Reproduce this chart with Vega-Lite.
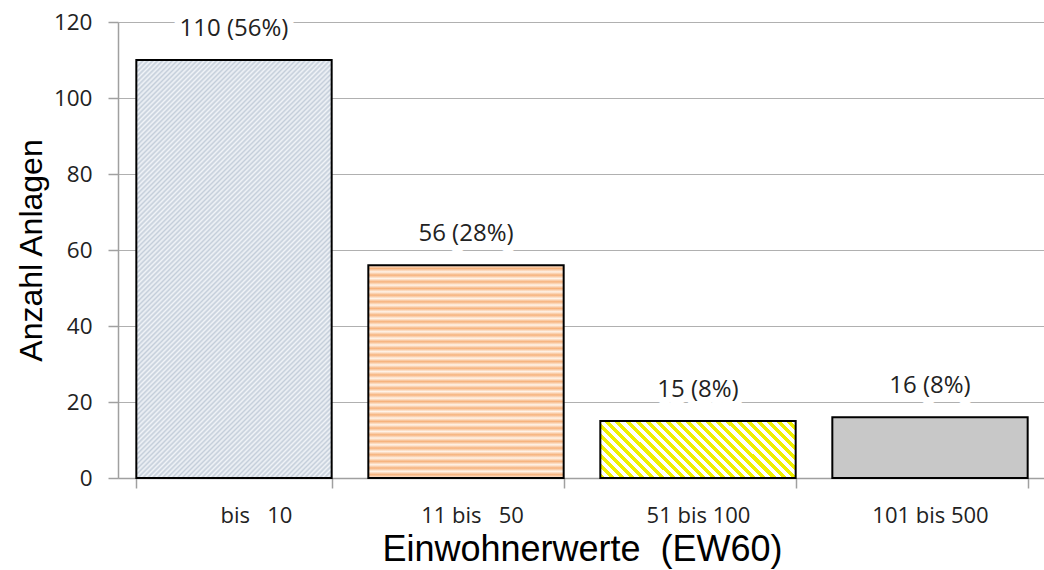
{
  "$schema": "https://vega.github.io/schema/vega-lite/v6.json",
  "width": 928,
  "height": 456,
  "autosize": "none",
  "padding": {"left": 118, "top": 22, "right": 0, "bottom": 92},
  "background": "white",
  "config": {"view": {"stroke": null}, "font": "Open Sans"},
  "data": {"values": [
    {"id": 1, "kat": "bis\u00a0\u00a0\u00a010", "anzahl": 110, "label": "110 (56%)"},
    {"id": 2, "kat": "11 bis\u00a0\u00a0\u00a050", "anzahl": 56, "label": "56 (28%)"},
    {"id": 3, "kat": "51 bis 100", "anzahl": 15, "label": "15 (8%)"},
    {"id": 4, "kat": "101 bis 500", "anzahl": 16, "label": "16 (8%)"}
  ]},
  "encoding": {
    "x": {
      "field": "kat", "type": "nominal", "sort": null,
      "scale": {"domain": ["bis\u00a0\u00a0\u00a010", "11 bis\u00a0\u00a0\u00a050", "51 bis 100", "101 bis 500"], "paddingInner": 0.158, "paddingOuter": 0.079},
      "axis": {
        "title": "Einwohnerwerte\u00a0 (EW60)", "titleFont": "Liberation Sans", "titleFontSize": 36, "titleFontWeight": "normal", "titleColor": "#000000", "titlePadding": 6,
        "labelFont": "Open Sans", "labelFontSize": 22, "labelColor": "#222222", "labelAngle": 0, "labelPadding": 17,
        "labelOffset": {"condition": [{"test": "indexof(datum.label, 'bis') === 0", "value": 22}, {"test": "indexof(datum.label, '11 ') === 0", "value": 6}], "value": 0},
        "domainColor": "#a0a0a0", "domainWidth": 1.5, "tickColor": "#a0a0a0", "tickWidth": 1.5, "tickSize": 10, "tickBand": "extent", "grid": false
      }
    },
    "y": {
      "field": "anzahl", "type": "quantitative",
      "scale": {"domain": [0, 120], "nice": false},
      "axis": {
        "title": "Anzahl Anlagen", "titleFont": "Liberation Sans", "titleFontSize": 32, "titleFontWeight": "normal", "titleColor": "#000000", "titlePadding": 5,
        "values": [0, 20, 40, 60, 80, 100, 120],
        "labelFont": "Open Sans", "labelFontSize": 22.5, "labelColor": "#222222", "labelPadding": 16,
        "domainColor": "#a0a0a0", "domainWidth": 1.5, "tickColor": "#a0a0a0", "tickWidth": 1.5, "tickSize": 10,
        "grid": true, "gridColor": "#b0b0b0", "gridWidth": 1.2
      }
    }
  },
  "layer": [
    {
      "transform": [{"filter": "datum.id === 1"}],
      "mark": {"type": "bar", "stroke": "#000000", "strokeWidth": 2,
        "fill": {"gradient": "linear", "x1": 0, "y1": 0, "x2": 0.562, "y2": 1.2046, "stops": [
{"offset":0,"color":"#f1f4f8"},{"offset":0.004,"color":"#c4ceda"},{"offset":0.008,"color":"#f1f4f8"},{"offset":0.012,"color":"#c4ceda"},{"offset":0.016,"color":"#f1f4f8"},{"offset":0.02,"color":"#c4ceda"},{"offset":0.024,"color":"#f1f4f8"},{"offset":0.028,"color":"#c4ceda"},{"offset":0.032,"color":"#f1f4f8"},{"offset":0.036,"color":"#c4ceda"},{"offset":0.04,"color":"#f1f4f8"},{"offset":0.044,"color":"#c4ceda"},{"offset":0.048,"color":"#f1f4f8"},{"offset":0.052,"color":"#c4ceda"},{"offset":0.056,"color":"#f1f4f8"},{"offset":0.06,"color":"#c4ceda"},{"offset":0.064,"color":"#f1f4f8"},{"offset":0.068,"color":"#c4ceda"},{"offset":0.072,"color":"#f1f4f8"},{"offset":0.076,"color":"#c4ceda"},{"offset":0.08,"color":"#f1f4f8"},{"offset":0.084,"color":"#c4ceda"},{"offset":0.088,"color":"#f1f4f8"},{"offset":0.092,"color":"#c4ceda"},{"offset":0.096,"color":"#f1f4f8"},{"offset":0.1,"color":"#c4ceda"},{"offset":0.104,"color":"#f1f4f8"},{"offset":0.108,"color":"#c4ceda"},{"offset":0.112,"color":"#f1f4f8"},{"offset":0.116,"color":"#c4ceda"},{"offset":0.12,"color":"#f1f4f8"},{"offset":0.124,"color":"#c4ceda"},{"offset":0.128,"color":"#f1f4f8"},{"offset":0.132,"color":"#c4ceda"},{"offset":0.136,"color":"#f1f4f8"},{"offset":0.14,"color":"#c4ceda"},{"offset":0.144,"color":"#f1f4f8"},{"offset":0.148,"color":"#c4ceda"},{"offset":0.152,"color":"#f1f4f8"},{"offset":0.156,"color":"#c4ceda"},{"offset":0.16,"color":"#f1f4f8"},{"offset":0.164,"color":"#c4ceda"},{"offset":0.168,"color":"#f1f4f8"},{"offset":0.172,"color":"#c4ceda"},{"offset":0.176,"color":"#f1f4f8"},{"offset":0.18,"color":"#c4ceda"},{"offset":0.184,"color":"#f1f4f8"},{"offset":0.188,"color":"#c4ceda"},{"offset":0.192,"color":"#f1f4f8"},{"offset":0.196,"color":"#c4ceda"},
{"offset":0.2,"color":"#f1f4f8"},{"offset":0.204,"color":"#c4ceda"},{"offset":0.208,"color":"#f1f4f8"},{"offset":0.212,"color":"#c4ceda"},{"offset":0.216,"color":"#f1f4f8"},{"offset":0.22,"color":"#c4ceda"},{"offset":0.224,"color":"#f1f4f8"},{"offset":0.228,"color":"#c4ceda"},{"offset":0.232,"color":"#f1f4f8"},{"offset":0.236,"color":"#c4ceda"},{"offset":0.24,"color":"#f1f4f8"},{"offset":0.244,"color":"#c4ceda"},{"offset":0.248,"color":"#f1f4f8"},{"offset":0.252,"color":"#c4ceda"},{"offset":0.256,"color":"#f1f4f8"},{"offset":0.26,"color":"#c4ceda"},{"offset":0.264,"color":"#f1f4f8"},{"offset":0.268,"color":"#c4ceda"},{"offset":0.272,"color":"#f1f4f8"},{"offset":0.276,"color":"#c4ceda"},{"offset":0.28,"color":"#f1f4f8"},{"offset":0.284,"color":"#c4ceda"},{"offset":0.288,"color":"#f1f4f8"},{"offset":0.292,"color":"#c4ceda"},{"offset":0.296,"color":"#f1f4f8"},{"offset":0.3,"color":"#c4ceda"},{"offset":0.304,"color":"#f1f4f8"},{"offset":0.308,"color":"#c4ceda"},{"offset":0.312,"color":"#f1f4f8"},{"offset":0.316,"color":"#c4ceda"},{"offset":0.32,"color":"#f1f4f8"},{"offset":0.324,"color":"#c4ceda"},{"offset":0.328,"color":"#f1f4f8"},{"offset":0.332,"color":"#c4ceda"},{"offset":0.336,"color":"#f1f4f8"},{"offset":0.34,"color":"#c4ceda"},{"offset":0.344,"color":"#f1f4f8"},{"offset":0.348,"color":"#c4ceda"},{"offset":0.352,"color":"#f1f4f8"},{"offset":0.356,"color":"#c4ceda"},{"offset":0.36,"color":"#f1f4f8"},{"offset":0.364,"color":"#c4ceda"},{"offset":0.368,"color":"#f1f4f8"},{"offset":0.372,"color":"#c4ceda"},{"offset":0.376,"color":"#f1f4f8"},{"offset":0.38,"color":"#c4ceda"},{"offset":0.384,"color":"#f1f4f8"},{"offset":0.388,"color":"#c4ceda"},{"offset":0.392,"color":"#f1f4f8"},{"offset":0.396,"color":"#c4ceda"},
{"offset":0.4,"color":"#f1f4f8"},{"offset":0.404,"color":"#c4ceda"},{"offset":0.408,"color":"#f1f4f8"},{"offset":0.412,"color":"#c4ceda"},{"offset":0.416,"color":"#f1f4f8"},{"offset":0.42,"color":"#c4ceda"},{"offset":0.424,"color":"#f1f4f8"},{"offset":0.428,"color":"#c4ceda"},{"offset":0.432,"color":"#f1f4f8"},{"offset":0.436,"color":"#c4ceda"},{"offset":0.44,"color":"#f1f4f8"},{"offset":0.444,"color":"#c4ceda"},{"offset":0.448,"color":"#f1f4f8"},{"offset":0.452,"color":"#c4ceda"},{"offset":0.456,"color":"#f1f4f8"},{"offset":0.46,"color":"#c4ceda"},{"offset":0.464,"color":"#f1f4f8"},{"offset":0.468,"color":"#c4ceda"},{"offset":0.472,"color":"#f1f4f8"},{"offset":0.476,"color":"#c4ceda"},{"offset":0.48,"color":"#f1f4f8"},{"offset":0.484,"color":"#c4ceda"},{"offset":0.488,"color":"#f1f4f8"},{"offset":0.492,"color":"#c4ceda"},{"offset":0.496,"color":"#f1f4f8"},{"offset":0.5,"color":"#c4ceda"},{"offset":0.504,"color":"#f1f4f8"},{"offset":0.508,"color":"#c4ceda"},{"offset":0.512,"color":"#f1f4f8"},{"offset":0.516,"color":"#c4ceda"},{"offset":0.52,"color":"#f1f4f8"},{"offset":0.524,"color":"#c4ceda"},{"offset":0.528,"color":"#f1f4f8"},{"offset":0.532,"color":"#c4ceda"},{"offset":0.536,"color":"#f1f4f8"},{"offset":0.54,"color":"#c4ceda"},{"offset":0.544,"color":"#f1f4f8"},{"offset":0.548,"color":"#c4ceda"},{"offset":0.552,"color":"#f1f4f8"},{"offset":0.556,"color":"#c4ceda"},{"offset":0.56,"color":"#f1f4f8"},{"offset":0.564,"color":"#c4ceda"},{"offset":0.568,"color":"#f1f4f8"},{"offset":0.572,"color":"#c4ceda"},{"offset":0.576,"color":"#f1f4f8"},{"offset":0.58,"color":"#c4ceda"},{"offset":0.584,"color":"#f1f4f8"},{"offset":0.588,"color":"#c4ceda"},{"offset":0.592,"color":"#f1f4f8"},{"offset":0.596,"color":"#c4ceda"},
{"offset":0.6,"color":"#f1f4f8"},{"offset":0.604,"color":"#c4ceda"},{"offset":0.608,"color":"#f1f4f8"},{"offset":0.612,"color":"#c4ceda"},{"offset":0.616,"color":"#f1f4f8"},{"offset":0.62,"color":"#c4ceda"},{"offset":0.624,"color":"#f1f4f8"},{"offset":0.628,"color":"#c4ceda"},{"offset":0.632,"color":"#f1f4f8"},{"offset":0.636,"color":"#c4ceda"},{"offset":0.64,"color":"#f1f4f8"},{"offset":0.644,"color":"#c4ceda"},{"offset":0.648,"color":"#f1f4f8"},{"offset":0.652,"color":"#c4ceda"},{"offset":0.656,"color":"#f1f4f8"},{"offset":0.66,"color":"#c4ceda"},{"offset":0.664,"color":"#f1f4f8"},{"offset":0.668,"color":"#c4ceda"},{"offset":0.672,"color":"#f1f4f8"},{"offset":0.676,"color":"#c4ceda"},{"offset":0.68,"color":"#f1f4f8"},{"offset":0.684,"color":"#c4ceda"},{"offset":0.688,"color":"#f1f4f8"},{"offset":0.692,"color":"#c4ceda"},{"offset":0.696,"color":"#f1f4f8"},{"offset":0.7,"color":"#c4ceda"},{"offset":0.704,"color":"#f1f4f8"},{"offset":0.708,"color":"#c4ceda"},{"offset":0.712,"color":"#f1f4f8"},{"offset":0.716,"color":"#c4ceda"},{"offset":0.72,"color":"#f1f4f8"},{"offset":0.724,"color":"#c4ceda"},{"offset":0.728,"color":"#f1f4f8"},{"offset":0.732,"color":"#c4ceda"},{"offset":0.736,"color":"#f1f4f8"},{"offset":0.74,"color":"#c4ceda"},{"offset":0.744,"color":"#f1f4f8"},{"offset":0.748,"color":"#c4ceda"},{"offset":0.752,"color":"#f1f4f8"},{"offset":0.756,"color":"#c4ceda"},{"offset":0.76,"color":"#f1f4f8"},{"offset":0.764,"color":"#c4ceda"},{"offset":0.768,"color":"#f1f4f8"},{"offset":0.772,"color":"#c4ceda"},{"offset":0.776,"color":"#f1f4f8"},{"offset":0.78,"color":"#c4ceda"},{"offset":0.784,"color":"#f1f4f8"},{"offset":0.788,"color":"#c4ceda"},{"offset":0.792,"color":"#f1f4f8"},{"offset":0.796,"color":"#c4ceda"},
{"offset":0.8,"color":"#f1f4f8"},{"offset":0.804,"color":"#c4ceda"},{"offset":0.808,"color":"#f1f4f8"},{"offset":0.812,"color":"#c4ceda"},{"offset":0.816,"color":"#f1f4f8"},{"offset":0.82,"color":"#c4ceda"},{"offset":0.824,"color":"#f1f4f8"},{"offset":0.828,"color":"#c4ceda"},{"offset":0.832,"color":"#f1f4f8"},{"offset":0.836,"color":"#c4ceda"},{"offset":0.84,"color":"#f1f4f8"},{"offset":0.844,"color":"#c4ceda"},{"offset":0.848,"color":"#f1f4f8"},{"offset":0.852,"color":"#c4ceda"},{"offset":0.856,"color":"#f1f4f8"},{"offset":0.86,"color":"#c4ceda"},{"offset":0.864,"color":"#f1f4f8"},{"offset":0.868,"color":"#c4ceda"},{"offset":0.872,"color":"#f1f4f8"},{"offset":0.876,"color":"#c4ceda"},{"offset":0.88,"color":"#f1f4f8"},{"offset":0.884,"color":"#c4ceda"},{"offset":0.888,"color":"#f1f4f8"},{"offset":0.892,"color":"#c4ceda"},{"offset":0.896,"color":"#f1f4f8"},{"offset":0.9,"color":"#c4ceda"},{"offset":0.904,"color":"#f1f4f8"},{"offset":0.908,"color":"#c4ceda"},{"offset":0.912,"color":"#f1f4f8"},{"offset":0.916,"color":"#c4ceda"},{"offset":0.92,"color":"#f1f4f8"},{"offset":0.924,"color":"#c4ceda"},{"offset":0.928,"color":"#f1f4f8"},{"offset":0.932,"color":"#c4ceda"},{"offset":0.936,"color":"#f1f4f8"},{"offset":0.94,"color":"#c4ceda"},{"offset":0.944,"color":"#f1f4f8"},{"offset":0.948,"color":"#c4ceda"},{"offset":0.952,"color":"#f1f4f8"},{"offset":0.956,"color":"#c4ceda"},{"offset":0.96,"color":"#f1f4f8"},{"offset":0.964,"color":"#c4ceda"},{"offset":0.968,"color":"#f1f4f8"},{"offset":0.972,"color":"#c4ceda"},{"offset":0.976,"color":"#f1f4f8"},{"offset":0.98,"color":"#c4ceda"},{"offset":0.984,"color":"#f1f4f8"},{"offset":0.988,"color":"#c4ceda"},{"offset":0.992,"color":"#f1f4f8"},{"offset":0.996,"color":"#c4ceda"},{"offset":1,"color":"#f1f4f8"}
        ]}
      }
    },
    {
      "transform": [{"filter": "datum.id === 2"}],
      "mark": {"type": "bar", "stroke": "#000000", "strokeWidth": 2,
        "fill": {"gradient": "linear", "x1": 0, "y1": 0, "x2": 0, "y2": 1, "stops": [
{"offset":0,"color":"#fff3e8"},{"offset":0.015625,"color":"#f6b27c"},{"offset":0.03125,"color":"#fff3e8"},{"offset":0.046875,"color":"#f6b27c"},{"offset":0.0625,"color":"#fff3e8"},{"offset":0.078125,"color":"#f6b27c"},{"offset":0.09375,"color":"#fff3e8"},{"offset":0.109375,"color":"#f6b27c"},{"offset":0.125,"color":"#fff3e8"},{"offset":0.140625,"color":"#f6b27c"},{"offset":0.15625,"color":"#fff3e8"},{"offset":0.171875,"color":"#f6b27c"},{"offset":0.1875,"color":"#fff3e8"},{"offset":0.203125,"color":"#f6b27c"},{"offset":0.21875,"color":"#fff3e8"},{"offset":0.234375,"color":"#f6b27c"},{"offset":0.25,"color":"#fff3e8"},{"offset":0.265625,"color":"#f6b27c"},{"offset":0.28125,"color":"#fff3e8"},{"offset":0.296875,"color":"#f6b27c"},{"offset":0.3125,"color":"#fff3e8"},{"offset":0.328125,"color":"#f6b27c"},{"offset":0.34375,"color":"#fff3e8"},{"offset":0.359375,"color":"#f6b27c"},{"offset":0.375,"color":"#fff3e8"},{"offset":0.390625,"color":"#f6b27c"},{"offset":0.40625,"color":"#fff3e8"},{"offset":0.421875,"color":"#f6b27c"},{"offset":0.4375,"color":"#fff3e8"},{"offset":0.453125,"color":"#f6b27c"},{"offset":0.46875,"color":"#fff3e8"},{"offset":0.484375,"color":"#f6b27c"},{"offset":0.5,"color":"#fff3e8"},{"offset":0.515625,"color":"#f6b27c"},{"offset":0.53125,"color":"#fff3e8"},{"offset":0.546875,"color":"#f6b27c"},{"offset":0.5625,"color":"#fff3e8"},{"offset":0.578125,"color":"#f6b27c"},{"offset":0.59375,"color":"#fff3e8"},{"offset":0.609375,"color":"#f6b27c"},{"offset":0.625,"color":"#fff3e8"},{"offset":0.640625,"color":"#f6b27c"},{"offset":0.65625,"color":"#fff3e8"},{"offset":0.671875,"color":"#f6b27c"},{"offset":0.6875,"color":"#fff3e8"},{"offset":0.703125,"color":"#f6b27c"},{"offset":0.71875,"color":"#fff3e8"},{"offset":0.734375,"color":"#f6b27c"},{"offset":0.75,"color":"#fff3e8"},{"offset":0.765625,"color":"#f6b27c"},{"offset":0.78125,"color":"#fff3e8"},{"offset":0.796875,"color":"#f6b27c"},{"offset":0.8125,"color":"#fff3e8"},{"offset":0.828125,"color":"#f6b27c"},{"offset":0.84375,"color":"#fff3e8"},{"offset":0.859375,"color":"#f6b27c"},{"offset":0.875,"color":"#fff3e8"},{"offset":0.890625,"color":"#f6b27c"},{"offset":0.90625,"color":"#fff3e8"},{"offset":0.921875,"color":"#f6b27c"},{"offset":0.9375,"color":"#fff3e8"},{"offset":0.953125,"color":"#f6b27c"},{"offset":0.96875,"color":"#fff3e8"},{"offset":0.984375,"color":"#f6b27c"},{"offset":1,"color":"#fff3e8"}
        ]}
      }
    },
    {
      "transform": [{"filter": "datum.id === 3"}],
      "mark": {"type": "bar", "stroke": "#000000", "strokeWidth": 2,
        "fill": {"gradient": "linear", "x1": 0, "y1": 1, "x2": 1.1906, "y2": 0.652, "stops": [
{"offset":0,"color":"#f0f000"},{"offset":0.02,"color":"#f0f000"},{"offset":0.02,"color":"#ffffff"},{"offset":0.04,"color":"#ffffff"},
{"offset":0.04,"color":"#f0f000"},{"offset":0.06,"color":"#f0f000"},{"offset":0.06,"color":"#ffffff"},{"offset":0.08,"color":"#ffffff"},
{"offset":0.08,"color":"#f0f000"},{"offset":0.1,"color":"#f0f000"},{"offset":0.1,"color":"#ffffff"},{"offset":0.12,"color":"#ffffff"},
{"offset":0.12,"color":"#f0f000"},{"offset":0.14,"color":"#f0f000"},{"offset":0.14,"color":"#ffffff"},{"offset":0.16,"color":"#ffffff"},
{"offset":0.16,"color":"#f0f000"},{"offset":0.18,"color":"#f0f000"},{"offset":0.18,"color":"#ffffff"},{"offset":0.2,"color":"#ffffff"},
{"offset":0.2,"color":"#f0f000"},{"offset":0.22,"color":"#f0f000"},{"offset":0.22,"color":"#ffffff"},{"offset":0.24,"color":"#ffffff"},
{"offset":0.24,"color":"#f0f000"},{"offset":0.26,"color":"#f0f000"},{"offset":0.26,"color":"#ffffff"},{"offset":0.28,"color":"#ffffff"},
{"offset":0.28,"color":"#f0f000"},{"offset":0.3,"color":"#f0f000"},{"offset":0.3,"color":"#ffffff"},{"offset":0.32,"color":"#ffffff"},
{"offset":0.32,"color":"#f0f000"},{"offset":0.34,"color":"#f0f000"},{"offset":0.34,"color":"#ffffff"},{"offset":0.36,"color":"#ffffff"},
{"offset":0.36,"color":"#f0f000"},{"offset":0.38,"color":"#f0f000"},{"offset":0.38,"color":"#ffffff"},{"offset":0.4,"color":"#ffffff"},
{"offset":0.4,"color":"#f0f000"},{"offset":0.42,"color":"#f0f000"},{"offset":0.42,"color":"#ffffff"},{"offset":0.44,"color":"#ffffff"},
{"offset":0.44,"color":"#f0f000"},{"offset":0.46,"color":"#f0f000"},{"offset":0.46,"color":"#ffffff"},{"offset":0.48,"color":"#ffffff"},
{"offset":0.48,"color":"#f0f000"},{"offset":0.5,"color":"#f0f000"},{"offset":0.5,"color":"#ffffff"},{"offset":0.52,"color":"#ffffff"},
{"offset":0.52,"color":"#f0f000"},{"offset":0.54,"color":"#f0f000"},{"offset":0.54,"color":"#ffffff"},{"offset":0.56,"color":"#ffffff"},
{"offset":0.56,"color":"#f0f000"},{"offset":0.58,"color":"#f0f000"},{"offset":0.58,"color":"#ffffff"},{"offset":0.6,"color":"#ffffff"},
{"offset":0.6,"color":"#f0f000"},{"offset":0.62,"color":"#f0f000"},{"offset":0.62,"color":"#ffffff"},{"offset":0.64,"color":"#ffffff"},
{"offset":0.64,"color":"#f0f000"},{"offset":0.66,"color":"#f0f000"},{"offset":0.66,"color":"#ffffff"},{"offset":0.68,"color":"#ffffff"},
{"offset":0.68,"color":"#f0f000"},{"offset":0.7,"color":"#f0f000"},{"offset":0.7,"color":"#ffffff"},{"offset":0.72,"color":"#ffffff"},
{"offset":0.72,"color":"#f0f000"},{"offset":0.74,"color":"#f0f000"},{"offset":0.74,"color":"#ffffff"},{"offset":0.76,"color":"#ffffff"},
{"offset":0.76,"color":"#f0f000"},{"offset":0.78,"color":"#f0f000"},{"offset":0.78,"color":"#ffffff"},{"offset":0.8,"color":"#ffffff"},
{"offset":0.8,"color":"#f0f000"},{"offset":0.82,"color":"#f0f000"},{"offset":0.82,"color":"#ffffff"},{"offset":0.84,"color":"#ffffff"},
{"offset":0.84,"color":"#f0f000"},{"offset":0.86,"color":"#f0f000"},{"offset":0.86,"color":"#ffffff"},{"offset":0.88,"color":"#ffffff"},
{"offset":0.88,"color":"#f0f000"},{"offset":0.9,"color":"#f0f000"},{"offset":0.9,"color":"#ffffff"},{"offset":0.92,"color":"#ffffff"},
{"offset":0.92,"color":"#f0f000"},{"offset":0.94,"color":"#f0f000"},{"offset":0.94,"color":"#ffffff"},{"offset":0.96,"color":"#ffffff"},
{"offset":0.96,"color":"#f0f000"},{"offset":0.98,"color":"#f0f000"},{"offset":0.98,"color":"#ffffff"},{"offset":1,"color":"#ffffff"}
        ]}
      }
    },
    {
      "transform": [{"filter": "datum.id === 4"}],
      "mark": {"type": "bar", "stroke": "#000000", "strokeWidth": 2, "fill": "#c8c8c8"}
    },
    {
      "mark": {"type": "text", "dy": -31, "font": "Open Sans", "fontSize": 24, "fill": "#ffffff", "stroke": "#ffffff", "strokeWidth": 14, "strokeJoin": "round"},
      "encoding": {"text": {"field": "label"}}
    },
    {
      "mark": {"type": "text", "dy": -31, "font": "Open Sans", "fontSize": 24, "fill": "#222222"},
      "encoding": {"text": {"field": "label"}}
    }
  ]
}
